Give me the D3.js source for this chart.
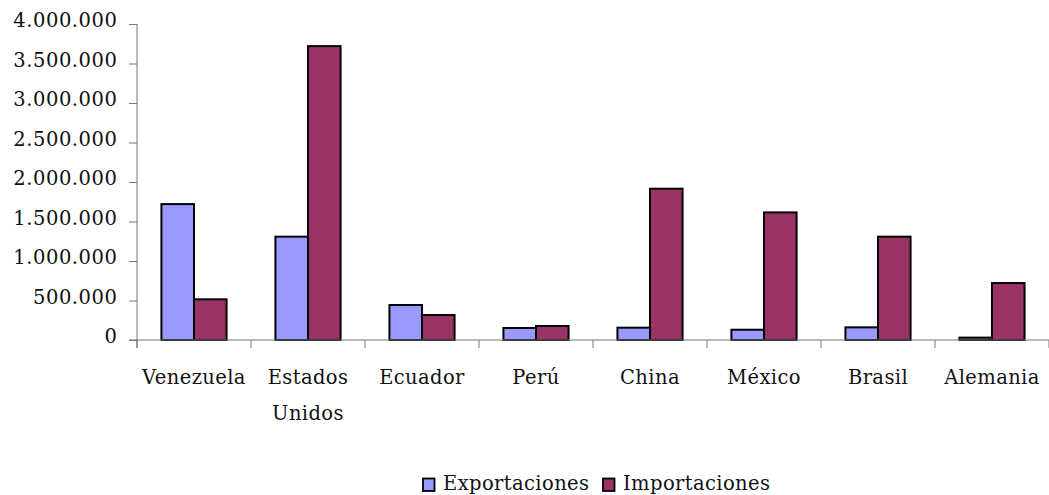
<!DOCTYPE html>
<html><head><meta charset="utf-8">
<script src="https://cdn.jsdelivr.net/npm/d3@7/dist/d3.min.js"></script>
<style>
html,body{margin:0;padding:0;background:#fff;}
svg text{font-family:"DejaVu Serif",serif;fill:#111;}
</style></head>
<body>
<svg id="c" width="1049" height="495"></svg>
<script>
const categories = [["Venezuela"],["Estados","Unidos"],["Ecuador"],["Perú"],["China"],["México"],["Brasil"],["Alemania"]];
const exportaciones = [1720000, 1308000, 443000, 152000, 156000, 130000, 160000, 30000];
const importaciones = [515000, 3720000, 316000, 177000, 1915000, 1615000, 1308000, 721000];
const seriesNames = ["Exportaciones", "Importaciones"];
const seriesColors = ["#9999FF", "#993366"];
const yTicks = [0, 500000, 1000000, 1500000, 2000000, 2500000, 3000000, 3500000, 4000000];

(function () {
const svg = d3.select("#c");
const mLeft = 137, mRight = 1049, mTop = 24, mBottom = 340;
const fmt = v => d3.format(",")(v).replace(/,/g, ".");

const x = d3.scaleBand().domain(d3.range(categories.length)).range([mLeft, mRight]).paddingInner(0).paddingOuter(0);
const y = d3.scaleLinear().domain([0, 4000000]).range([mBottom, mTop]);
const bw = x.bandwidth() / 3.5;
const xs = d3.scaleBand().domain([0, 1]).range([0.75 * bw, 2.75 * bw]);

// y axis
const yAxis = d3.axisLeft(y).tickValues(yTicks).tickFormat(fmt).tickSize(8).tickPadding(11.5);
const gy = svg.append("g").attr("transform", `translate(${mLeft},0)`).call(yAxis);
gy.select(".domain").attr("stroke", "#777").attr("d", `M0,${mTop}V${mBottom + 8}`);
gy.selectAll(".tick line").attr("stroke", "#777");
gy.selectAll(".tick text").attr("font-size", 19.5).attr("letter-spacing", "0.55px").attr("dy", "0.15em")
  .style("font-family", "DejaVu Serif").attr("fill", "#111");

// bars
const data = [exportaciones, importaciones];
const groups = svg.append("g");
categories.forEach((c, i) => {
  data.forEach((s, j) => {
    groups.append("rect")
      .attr("x", x(i) + xs(j))
      .attr("y", y(s[i]))
      .attr("width", xs.bandwidth())
      .attr("height", y(0) - y(s[i]))
      .attr("fill", seriesColors[j])
      .attr("stroke", "#000")
      .attr("stroke-width", 2);
  });
});

// x axis
const xAxis = d3.axisBottom(x).tickSize(0).tickFormat("");
const gx = svg.append("g").attr("transform", `translate(0,${mBottom})`).call(xAxis);
gx.select(".domain").attr("stroke", "#777").attr("d", `M${mLeft - 8},0H${mRight}`);
gx.selectAll(".tick").remove();
const tickPos = d3.range(categories.length + 1).map(i => mLeft + i * x.bandwidth());
gx.selectAll("line.sep").data(tickPos).enter().append("line").attr("class", "sep")
  .attr("x1", d => d).attr("x2", d => d).attr("y1", 0).attr("y2", 8).attr("stroke", "#777");

// category labels
categories.forEach((c, i) => {
  const t = svg.append("text").attr("text-anchor", "middle").attr("font-size", 19.5).attr("letter-spacing", "0.4px")
    .attr("x", x(i) + x.bandwidth() / 2).attr("y", 384);
  c.forEach((line, k) => t.append("tspan").attr("x", x(i) + x.bandwidth() / 2).attr("y", 384 + k * 36).text(line));
});

// legend
const leg = svg.append("g");
const legX = [423, 603];
seriesNames.forEach((n, j) => {
  leg.append("rect").attr("x", legX[j]).attr("y", 478.5).attr("width", 11.5).attr("height", 12.5)
    .attr("fill", seriesColors[j]).attr("stroke", "#000").attr("stroke-width", 1.8);
  leg.append("text").attr("x", legX[j] + 20).attr("y", 490).attr("font-size", 19.5).attr("letter-spacing", "0.4px").text(n);
});
})();
</script>
</body></html>
